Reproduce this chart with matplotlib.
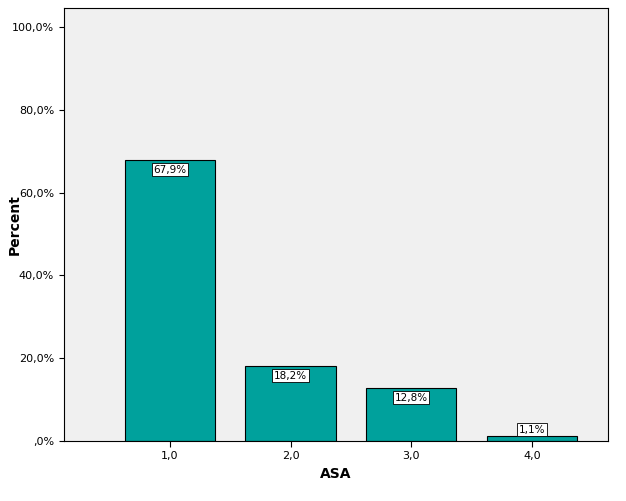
import matplotlib.pyplot as plt
from matplotlib.ticker import FuncFormatter

# ASA distribution
categories = [1, 2, 3, 4]
cat_labels = ['1,0', '2,0', '3,0', '4,0']
percents = [67.9, 18.2, 12.8, 1.1]
yticks = [0, 20, 40, 60, 80, 100]

fig = plt.figure(figsize=(6.26, 5.01), dpi=100)
ax = fig.add_axes([0.102, 0.12, 0.869, 0.864])
ax.set_facecolor('#F0F0F0')

ax.bar(categories, percents, width=0.75, color='#00A19C', edgecolor='black', linewidth=0.8)

for x, p in zip(categories, percents):
    lbl = f'{p:.1f}%'.replace('.', ',')
    y = p - 1.2 if p > 5 else p + 0.4
    va = 'top' if p > 5 else 'bottom'
    ax.text(x, y, lbl, ha='center', va=va, fontsize=7.5,
            bbox=dict(boxstyle='square,pad=0.15', fc='white', ec='black', lw=0.6))

ax.set_xlim(0.12, 4.63)
ax.set_ylim(0, 104.6)
ax.set_xticks(categories)
ax.set_xticklabels(cat_labels, fontsize=8)
ax.set_yticks(yticks)
ax.yaxis.set_major_formatter(FuncFormatter(lambda v, _: (f'{v:.1f}%'.replace('.', ',')) if v else ',0%'))
ax.tick_params(axis='y', labelsize=8)
ax.tick_params(axis='x', length=4)
ax.set_xlabel('ASA', fontsize=10, fontweight='bold')
ax.set_ylabel('Percent', fontsize=10, fontweight='bold')
ax.yaxis.set_label_coords(-0.077, 0.5)
for s in ax.spines.values():
    s.set_linewidth(0.8)

fig.savefig('out.png')
